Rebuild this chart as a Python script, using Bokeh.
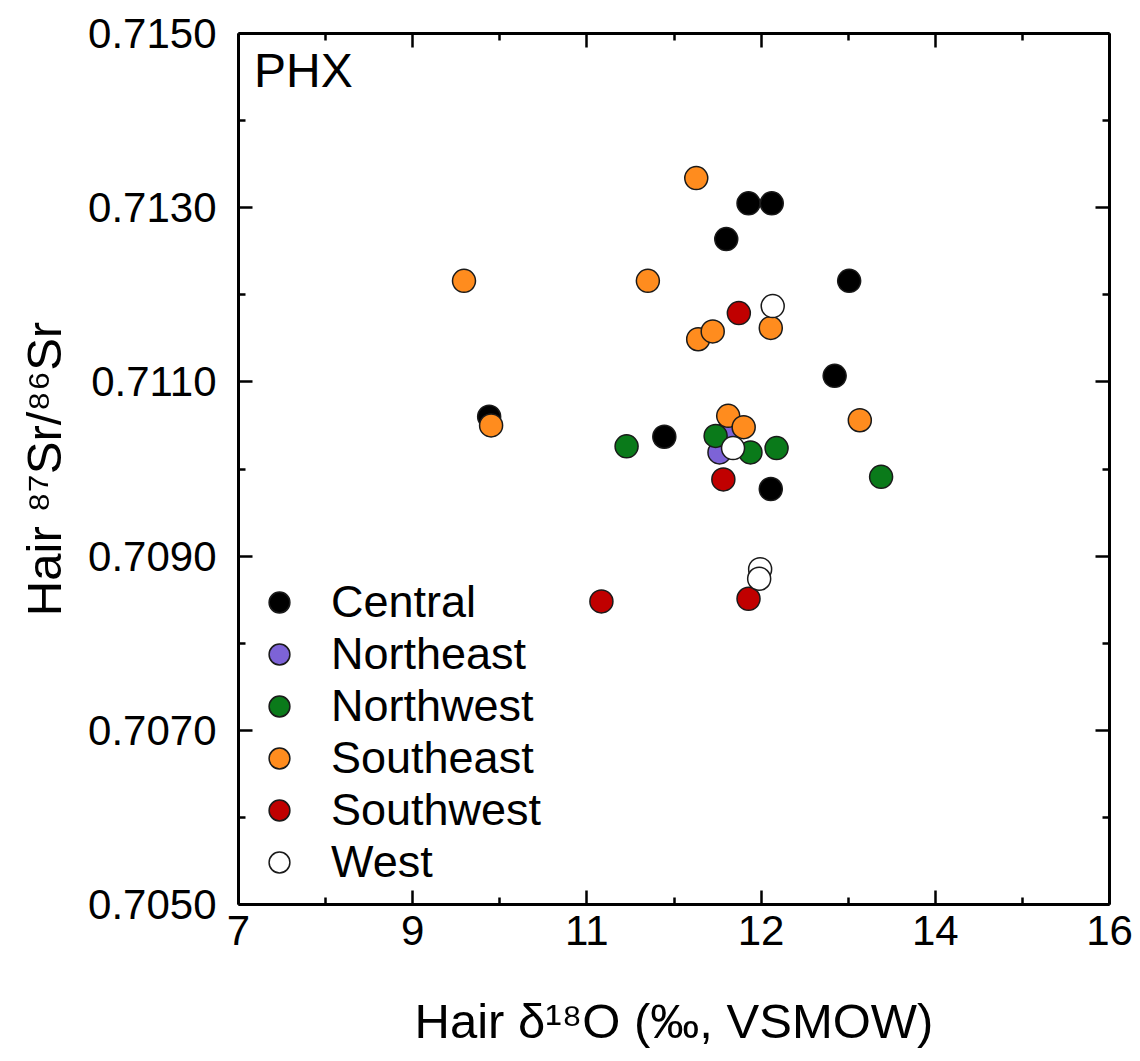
from bokeh.plotting import figure
from bokeh.models import FixedTicker, LinearAxis, Range1d, Label, Legend, LegendItem
from bokeh.embed import file_html
from bokeh.resources import INLINE

# ---- data ----
groups = ["Central", "Northeast", "Northwest", "Southeast", "Southwest", "West"]
colors = ["#000000", "#7d63d7", "#0a7a1a", "#ff8c1e", "#c00000", "#ffffff"]

central_x = [9.59, 11.40, 12.04, 12.27, 12.51, 13.31, 13.16, 12.50]
central_y = [0.71060, 0.71037, 0.71264, 0.71305, 0.71305, 0.71216, 0.71107, 0.70977]

northeast_x = [11.97, 12.07]
northeast_y = [0.71019, 0.71044]

northwest_x = [11.01, 11.93, 12.29, 12.56, 13.64]
northwest_y = [0.71026, 0.71038, 0.71019, 0.71024, 0.70991]

southeast_x = [9.33, 11.23, 11.73, 11.75, 11.90, 12.50, 9.61, 12.06, 12.22, 13.42]
southeast_y = [0.71216, 0.71216, 0.71334, 0.71149, 0.71158, 0.71162, 0.71050, 0.71061, 0.71048, 0.71056]

southwest_x = [12.17, 12.01, 10.75, 12.27]
southwest_y = [0.71179, 0.70988, 0.70848, 0.70851]

west_x = [12.52, 12.11, 12.39, 12.38]
west_y = [0.71187, 0.71024, 0.70885, 0.70874]

x_ticks = [7, 8.8, 10.6, 12.4, 14.2, 16]
x_tick_labels = ["7", "9", "11", "12", "14", "16"]
x_minor = [7.9, 9.7, 11.5, 13.3, 15.1]

y_ticks = [0.705, 0.707, 0.709, 0.711, 0.713, 0.715]
y_tick_labels = ["0.7050", "0.7070", "0.7090", "0.7110", "0.7130", "0.7150"]
y_minor = [0.706, 0.708, 0.710, 0.712, 0.714]

series = [
    (central_x, central_y),
    (northeast_x, northeast_y),
    (northwest_x, northwest_y),
    (southeast_x, southeast_y),
    (southwest_x, southwest_y),
    (west_x, west_y),
]

FONT = "Liberation Sans"

p = figure(
    frame_width=871, frame_height=871,
    x_range=Range1d(7, 16), y_range=Range1d(0.705, 0.715),
    output_backend="svg", toolbar_location=None,
    x_axis_location=None, y_axis_location=None,
    min_border_left=238, min_border_right=28, min_border_top=33, min_border_bottom=152,
)
p.grid.visible = False
p.outline_line_color = None
p.background_fill_color = "white"
p.border_fill_color = "white"

xt = FixedTicker(ticks=x_ticks, minor_ticks=x_minor)
yt = FixedTicker(ticks=y_ticks, minor_ticks=y_minor)


def style_axis(ax, show_labels):
    ax.axis_line_width = 3
    ax.axis_line_color = "black"
    ax.major_tick_in = 14
    ax.major_tick_out = 0
    ax.minor_tick_in = 7
    ax.minor_tick_out = 0
    ax.major_tick_line_width = 2.5
    ax.minor_tick_line_width = 2.5
    ax.major_tick_line_color = "black"
    ax.minor_tick_line_color = "black"
    ax.major_label_text_font = FONT
    ax.axis_label_text_font = FONT
    ax.axis_label_text_font_style = "normal"
    ax.axis_label_text_color = "black"
    ax.major_label_text_color = "black"
    if show_labels:
        ax.major_label_text_font_size = "42px"
        ax.axis_label_text_font_size = "49px"
    else:
        ax.major_label_text_font_size = "0px"
        ax.major_label_text_alpha = 0


xb = LinearAxis(ticker=xt, axis_label="Hair δ¹⁸O (‰, VSMOW)")
xb.major_label_overrides = {t: l for t, l in zip(x_ticks, x_tick_labels)}
style_axis(xb, True)
xb.major_label_standoff = 11
xb.axis_label_standoff = 46
p.add_layout(xb, "below")

yl = LinearAxis(ticker=yt, axis_label="Hair ⁸⁷Sr/⁸⁶Sr")
yl.major_label_overrides = {t: l for t, l in zip(y_ticks, y_tick_labels)}
style_axis(yl, True)
yl.major_label_standoff = 22
yl.axis_label_standoff = 14
p.add_layout(yl, "left")

xtop = LinearAxis(ticker=xt)
style_axis(xtop, False)
p.add_layout(xtop, "above")

yright = LinearAxis(ticker=yt)
style_axis(yright, False)
p.add_layout(yright, "right")

items = []
for name, col, (xs, ys) in zip(groups, colors, series):
    r = p.scatter(xs, ys, size=23, fill_color=col, line_color="#1a1a1a", line_width=1.5)
    items.append(LegendItem(label=name, renderers=[r]))

legend = Legend(items=items, location=(12, 16))
legend.border_line_color = None
legend.background_fill_alpha = 0
legend.padding = 0
legend.margin = 0
legend.spacing = 0
legend.glyph_width = 58
legend.glyph_height = 52
legend.label_standoff = 23
legend.label_height = 52
legend.label_text_font = FONT
legend.label_text_font_size = "45px"
legend.label_text_color = "black"
p.add_layout(legend, "center")

phx = Label(x=7.16, y=0.71458, text="PHX", text_font=FONT, text_font_size="48px",
            text_color="black", text_baseline="alphabetic")
p.add_layout(phx)

open("out.html", "w").write(file_html(p, INLINE))
